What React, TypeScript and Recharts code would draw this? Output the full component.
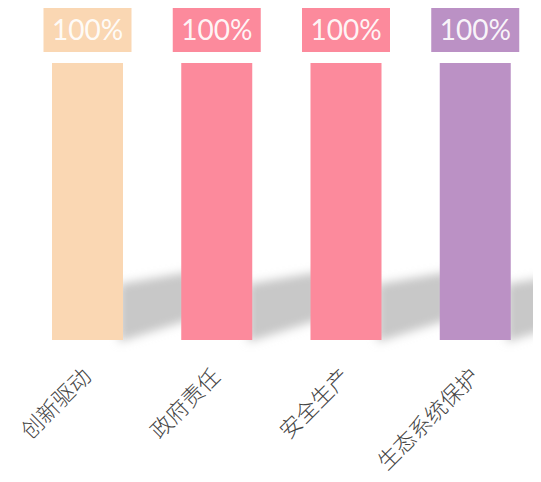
import { BarChart, Bar, XAxis, YAxis, LabelList } from 'recharts'

const categories = ['创新驱动', '政府责任', '安全生产', '生态系统保护']
const values = [100, 100, 100, 100]
const barColors = ['#FAD7B3', '#FC8A9C', '#FC8A9C', '#BB91C5']

const data = categories.map((name, i) => ({ name, value: values[i], color: barColors[i] }))

// bar with a soft slanted shadow falling to the right
const ShadowBar = (props: any) => {
  const { x, y, width, height, index, payload } = props
  const xr = x + width
  const yb = y + height
  const id = `shadow-blur-${index}`
  const pts = [
    [xr - 4, yb - 56],
    [xr + 66, yb - 68],
    [xr + 66, yb - 20],
    [xr - 4, yb + 2],
  ]
    .map((p) => p.join(','))
    .join(' ')
  return (
    <g>
      <defs>
        <filter id={id} x="-50%" y="-50%" width="200%" height="200%">
          <feGaussianBlur stdDeviation="5" />
        </filter>
      </defs>
      <polygon points={pts} fill="#c8c8c8" filter={`url(#${id})`} />
      <rect x={x} y={y} width={width} height={height} fill={payload.color} />
    </g>
  )
}

const ValueBox = (props: any) => {
  const { x, y, width, value, index } = props
  const cx = x + width / 2
  const w = 88
  const h = 47
  return (
    <g>
      <rect x={cx - w / 2} y={y - 58} width={w} height={h} fill={barColors[index]} />
      <text
        x={cx}
        y={y - 34.5}
        textAnchor="middle"
        dominantBaseline="central"
        fill="#fff"
        fillOpacity={0.92}
        fontSize={28}
        fontFamily="Lato, sans-serif"
      >
        {value}%
      </text>
    </g>
  )
}

const CategoryTick = ({ x, y, payload }: any) => {
  const tx = x + 5
  const ty = y + 30
  return (
    <text
      x={tx}
      y={ty}
      textAnchor="end"
      transform={`rotate(-45, ${tx}, ${ty})`}
      fill="#444"
      fontSize={22}
      fontFamily="'Noto Sans CJK SC', serif"
      fontWeight={300}
    >
      {payload.value}
    </text>
  )
}

export default function App() {
  return (
    <BarChart
      width={533}
      height={474}
      data={data}
      margin={{ top: 55, right: 1, left: 15, bottom: 0 }}
    >
      <XAxis
        dataKey="name"
        axisLine={false}
        tickLine={false}
        interval={0}
        height={142}
        tick={<CategoryTick />}
      />
      <YAxis hide domain={[0, 100]} />
      <Bar dataKey="value" barSize={71} shape={<ShadowBar />} isAnimationActive={false}>
        <LabelList dataKey="value" content={<ValueBox />} />
      </Bar>
    </BarChart>
  )
}
